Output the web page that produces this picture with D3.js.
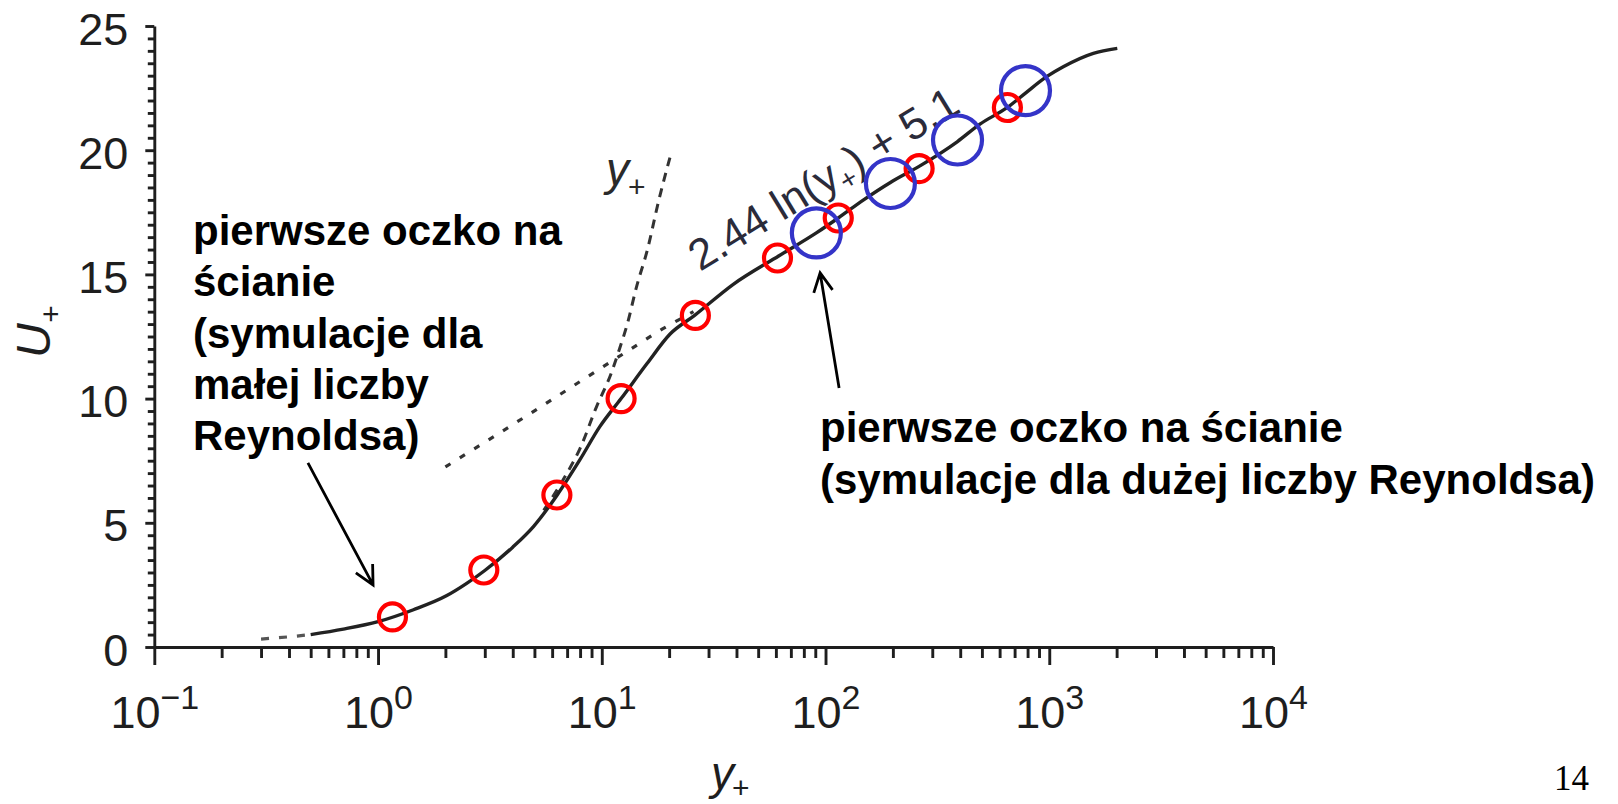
<!DOCTYPE html>
<html>
<head>
<meta charset="utf-8">
<script src="https://cdn.jsdelivr.net/npm/d3@7"></script>
<style>
  html, body { margin: 0; padding: 0; background: #fff; }
  svg { display: block; }
</style>
</head>
<body>
<svg id="chart" width="1618" height="804"></svg>
<script>
// Universal velocity profile u+ against y+ (log x axis)

// Profile near the wall (dashed lead-in), then the solid profile
const tailYPlus = [0.30, 0.40, 0.50];
const tailUPlus = [0.32, 0.41, 0.50];

const profileYPlus = [0.50, 0.70, 1.0, 1.44, 2.03, 2.49, 3.0, 4.0, 4.95, 6.3, 8.0, 9.8, 12.2, 15.9, 20.2, 26, 38.7, 62, 91, 114, 148, 195, 262, 389, 490, 650, 783, 973, 1155, 1574, 2014];
const profileUPlus = [0.50, 0.72, 1.02, 1.50, 2.07, 2.56, 3.08, 4.02, 4.85, 6.10, 7.55, 8.87, 10.0, 11.4, 12.6, 13.35, 14.6, 15.75, 16.67, 17.27, 18.0, 18.7, 19.35, 20.35, 21.05, 21.72, 22.3, 22.96, 23.36, 23.9, 24.1];

// Viscous sublayer line u+ = y+
const linearYPlus = [5.5, 6.85, 8.0, 9.5, 11.0, 12.0, 13.0, 14.3, 16.0, 18.0, 20.3];
const linearUPlus = [5.5, 6.86, 8.0, 9.7, 11.0, 12.0, 13.0, 14.5, 16.0, 18.0, 19.8];

// Log-law line 2.44 ln(y+) + 5.1
const logLawYPlus = [2.0, 3.0, 5.3, 9.8, 18.6, 25.7];
const logLawUPlus = [7.25, 8.24, 9.65, 11.2, 12.8, 13.5];

// First cell centres: low-Re (red) and high-Re (blue) meshes
const lowReYPlus = [1.16, 2.97, 6.3, 12.2, 26.2, 61, 114, 262, 650];
const lowReUPlus = [1.21, 3.10, 6.12, 10.0, 13.35, 15.66, 17.27, 19.26, 21.72];
const highReYPlus = [91, 195, 389, 783];
const highReUPlus = [16.67, 18.66, 20.41, 22.40];

// Axis ticks
const xMajorTicks = [0.1, 1, 10, 100, 1000, 10000];
const xTickExponents = ["\u22121", "0", "1", "2", "3", "4"];
const yMajorTicks = [0, 5, 10, 15, 20, 25];
const yMinorStep = 0.5;

// Annotation text
const leftNoteLines = ["pierwsze oczko na", "ścianie", "(symulacje dla", "małej liczby", "Reynoldsa)"];
const rightNoteLines = ["pierwsze oczko na ścianie", "(symulacje dla dużej liczby Reynoldsa)"];

const svg = d3.select("#chart");
svg.append("rect").attr("width", 1618).attr("height", 804).attr("fill", "#fff");

const x = d3.scaleLog().domain([0.1, 1e4]).range([154.3, 1273]);
const y = d3.scaleLinear().domain([0, 25]).range([647, 26]);

const SANS = "'Liberation Sans', Arial, Helvetica, sans-serif";
const INK = "#1e1e1e";

// ---- axes ----
const xMinorTicks = [];
for (let d = -1; d < 4; d++) for (let m = 2; m <= 9; m++) xMinorTicks.push(m * Math.pow(10, d));
const yMinorTicks = d3.range(0, 25 + 1e-9, yMinorStep).filter(v => v % 5 !== 0);

function styleAxis(g) {
  g.selectAll("path, line").attr("stroke", INK).attr("stroke-width", 2.9);
}

const gx = svg.append("g").attr("transform", `translate(0,${y(0)})`);
gx.append("g").call(d3.axisBottom(x).tickValues(xMinorTicks).tickSize(11).tickFormat(""))
  .call(g => g.select(".domain").remove()).call(styleAxis);
const gxMajor = gx.append("g")
  .call(d3.axisBottom(x).tickValues(xMajorTicks).tickSize(18).tickSizeOuter(0).tickFormat(""))
  .call(styleAxis);
gxMajor.selectAll(".tick text")
  .attr("y", 81).attr("dy", null)
  .attr("font-family", SANS).attr("font-size", 45).attr("fill", INK)
  .attr("text-anchor", "middle")
  .each(function (d, i) {
    const t = d3.select(this);
    t.text(null);
    t.append("tspan").text("10");
    t.append("tspan").attr("dy", -19).attr("font-size", 34).text(xTickExponents[i]);
  });

const gy = svg.append("g").attr("transform", `translate(${x(0.1)},0)`);
gy.append("g").call(d3.axisLeft(y).tickValues(yMinorTicks).tickSize(6.5).tickFormat(""))
  .call(g => g.select(".domain").remove()).call(styleAxis);
gy.append("g")
  .call(d3.axisLeft(y).tickValues(yMajorTicks).tickSize(9).tickSizeOuter(0).tickPadding(17).tickFormat(d3.format("d")))
  .call(styleAxis)
  .call(g => g.selectAll(".tick text")
    .attr("dy", null).attr("y", 18)
    .attr("font-family", SANS).attr("font-size", 45).attr("fill", INK));

// axis titles
svg.append("text")
  .attr("transform", "translate(50,358) rotate(-90)")
  .attr("font-family", SANS).attr("font-style", "italic").attr("font-size", 48).attr("fill", INK)
  .call(t => { t.append("tspan").text("U"); t.append("tspan").attr("dy", 11).attr("font-size", 30).text("+"); });

svg.append("text")
  .attr("x", 711).attr("y", 789)
  .attr("font-family", SANS).attr("font-style", "italic").attr("font-size", 46).attr("fill", INK)
  .call(t => { t.append("tspan").text("y"); t.append("tspan").attr("dx", -2).attr("dy", 9).attr("font-style", "normal").attr("font-size", 30).text("+"); });

// ---- reference lines ----
const toPts = (xs, ys) => xs.map((v, i) => [v, ys[i]]);
const line = d3.line().x(d => x(d[0])).y(d => y(d[1]));

svg.append("path")
  .datum(toPts(linearYPlus, linearUPlus))
  .attr("d", line.curve(d3.curveMonotoneX))
  .attr("fill", "none").attr("stroke", "#333").attr("stroke-width", 3)
  .attr("stroke-dasharray", "9 7");

svg.append("path")
  .datum(toPts(logLawYPlus, logLawUPlus))
  .attr("d", line.curve(d3.curveLinear))
  .attr("fill", "none").attr("stroke", "#333").attr("stroke-width", 3.2)
  .attr("stroke-dasharray", "6 11");

// u+ = y+ label
svg.append("text")
  .attr("x", 606).attr("y", 185)
  .attr("font-family", SANS).attr("font-style", "italic").attr("font-size", 46).attr("fill", "#2a2a2a")
  .call(t => { t.append("tspan").text("y"); t.append("tspan").attr("dx", -1).attr("dy", 12).attr("font-style", "normal").attr("font-size", 30).text("+"); });

// log-law label along the profile
const lawLabelAt = [27.5, 15.1];
svg.append("text")
  .attr("transform", `translate(${x(lawLabelAt[0])},${y(lawLabelAt[1])}) rotate(-31.5)`)
  .attr("font-family", SANS).attr("font-size", 43.5).attr("fill", "#2b2b3a")
  .call(t => {
    t.append("tspan").text("2.44 ln(y");
    t.append("tspan").attr("dy", 8).attr("font-size", 28).text("+");
    t.append("tspan").attr("dy", -8).text(") + 5.1");
  });

// ---- velocity profile ----
svg.append("path")
  .datum(toPts(tailYPlus, tailUPlus))
  .attr("d", line.curve(d3.curveMonotoneX))
  .attr("fill", "none").attr("stroke", "#555").attr("stroke-width", 3.2)
  .attr("stroke-dasharray", "8 10");

svg.append("path")
  .datum(toPts(profileYPlus, profileUPlus))
  .attr("d", line.curve(d3.curveMonotoneX))
  .attr("fill", "none").attr("stroke", "#222").attr("stroke-width", 3.4);

// ---- first-cell markers ----
svg.append("g").selectAll("circle")
  .data(toPts(lowReYPlus, lowReUPlus))
  .join("circle")
  .attr("cx", d => x(d[0])).attr("cy", d => y(d[1])).attr("r", 13.5)
  .attr("fill", "none").attr("stroke", "#ff0000").attr("stroke-width", 4.2);

svg.append("g").selectAll("circle")
  .data(toPts(highReYPlus, highReUPlus))
  .join("circle")
  .attr("cx", d => x(d[0])).attr("cy", d => y(d[1])).attr("r", 24.5)
  .attr("fill", "none").attr("stroke", "#3434c8").attr("stroke-width", 4.2);

// ---- annotations ----
function arrow(from, to) {
  const x1 = x(from[0]), y1 = y(from[1]), x2 = x(to[0]), y2 = y(to[1]);
  const a = Math.atan2(y2 - y1, x2 - x1), L = 21, h = 0.47;
  const p = d3.path();
  p.moveTo(x1, y1); p.lineTo(x2, y2);
  p.moveTo(x2 - L * Math.cos(a - h), y2 - L * Math.sin(a - h));
  p.lineTo(x2, y2);
  p.lineTo(x2 - L * Math.cos(a + h), y2 - L * Math.sin(a + h));
  svg.append("path").attr("d", p.toString())
    .attr("fill", "none").attr("stroke", "#000").attr("stroke-width", 2.8);
}
arrow([0.486, 7.41], [0.95, 2.5]);
arrow([115, 10.43], [94.6, 15.06]);

svg.append("text")
  .attr("font-family", SANS).attr("font-weight", "bold").attr("font-size", 42).attr("fill", "#000")
  .selectAll("tspan").data(leftNoteLines).join("tspan")
  .attr("x", 193).attr("y", (d, i) => 245 + i * 51.25).text(d => d);

svg.append("text")
  .attr("font-family", SANS).attr("font-weight", "bold").attr("font-size", 42).attr("fill", "#000")
  .selectAll("tspan").data(rightNoteLines).join("tspan")
  .attr("x", 820).attr("y", (d, i) => 442 + i * 51.5).text(d => d);

// slide number
svg.append("text")
  .attr("x", 1589).attr("y", 790).attr("text-anchor", "end")
  .attr("font-family", "'Liberation Serif', 'Times New Roman', serif").attr("font-size", 35).attr("fill", "#000")
  .text("14");
</script>
</body>
</html>
